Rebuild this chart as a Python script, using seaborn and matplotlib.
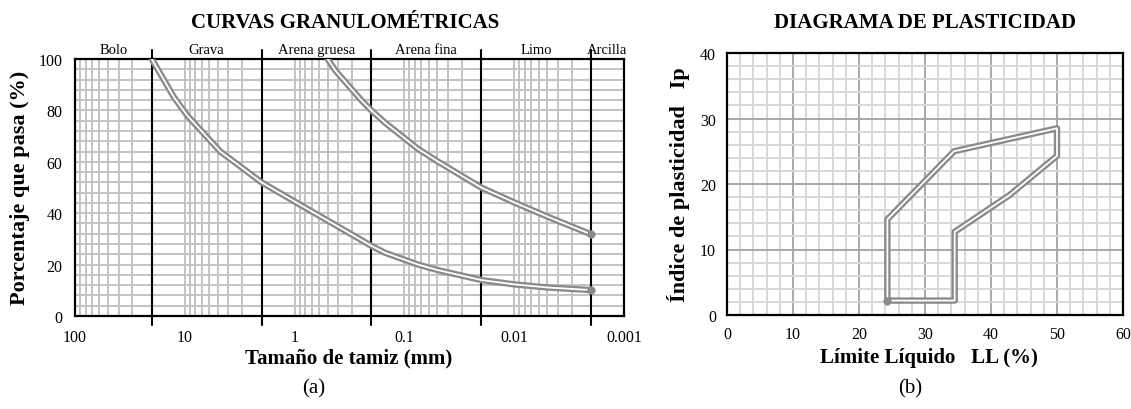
import numpy as np
import pandas as pd
import matplotlib
matplotlib.use("Agg")
import matplotlib.pyplot as plt
import seaborn as sns
from matplotlib import patheffects as pe
from matplotlib.ticker import FixedLocator, FixedFormatter, MultipleLocator, LogLocator, NullFormatter

# ---------------- data ----------------
# Granulometric curve A (coarser soil)
curve_a_mm = [20, 12.5, 9.5, 4.75, 2.0, 0.85, 0.425, 0.25, 0.2, 0.15, 0.075, 0.05, 0.02, 0.01, 0.005, 0.002]
curve_a_pct = [100, 85.0, 78.0, 64.0, 52.0, 42.8, 35.4, 29.7, 27.3, 24.6, 20.0, 17.9, 14.0, 12.3, 11.1, 10.1]
# Granulometric curve B (finer soil)
curve_b_mm = [0.5, 0.425, 0.25, 0.2, 0.15, 0.075, 0.05, 0.02, 0.01, 0.005, 0.002]
curve_b_pct = [100, 95.5, 84.2, 80.0, 75.2, 65.0, 60.2, 50.0, 44.2, 38.7, 31.8]

zone_bounds = [100, 20, 2, 0.2, 0.02, 0.002, 0.001]
zone_names = ["Bolo", "Grava", "Arena gruesa", "Arena fina", "Limo", "Arcilla"]

size_ticks = [100, 10, 1, 0.1, 0.01, 0.001]
size_tick_labels = ["100", "10", "1", "0.1", "0.01", "0.001"]
pct_ticks = [0, 20, 40, 60, 80, 100]

# Plasticity envelope
ll_values = [24.3, 24.3, 34.4, 50.0, 50.0, 42.8, 34.5, 34.5, 24.3]
ip_values = [2.2, 14.6, 25.0, 28.5, 24.3, 18.3, 12.7, 2.2, 2.2]
ll_ticks = [0, 10, 20, 30, 40, 50, 60]
ip_ticks = [0, 10, 20, 30, 40]

# ---------------- style ----------------
sns.set_theme(style="white")
plt.rcParams["font.family"] = ["Liberation Serif", "DejaVu Serif"]
plt.rcParams["axes.edgecolor"] = "black"
plt.rcParams["xtick.color"] = "black"
plt.rcParams["ytick.color"] = "black"
plt.rcParams["text.color"] = "black"

W, H = 1131, 410
fig = plt.figure(figsize=(W / 100, H / 100), dpi=100)

def px_axes(l, r, t, b):
    return [l / W, 1 - b / H, (r - l) / W, (b - t) / H]

ax1 = fig.add_axes(px_axes(75, 624, 60, 317))
ax2 = fig.add_axes(px_axes(727, 1123, 54, 316))

LINE_GRAY = "#8a8a8a"
double = [pe.Stroke(linewidth=4.6, foreground=LINE_GRAY), pe.Normal()]

# ---------------- (a) granulometric curves ----------------
ax1.set_xscale("log")
ax1.set_xlim(100, 0.001)
ax1.set_ylim(0, 100)
ax1.xaxis.set_major_locator(FixedLocator(size_ticks))
ax1.xaxis.set_major_formatter(FixedFormatter(size_tick_labels))
ax1.xaxis.set_minor_locator(LogLocator(base=10, subs=np.arange(2, 10)))
ax1.xaxis.set_minor_formatter(NullFormatter())
ax1.yaxis.set_major_locator(FixedLocator(pct_ticks))
ax1.yaxis.set_minor_locator(MultipleLocator(4))
ax1.grid(True, which="both", color="#c3c3c3", lw=1.4)
ax1.set_axisbelow(True)
ax1.tick_params(which="major", direction="out", length=6, width=1.5, labelsize=11.5, pad=3)
ax1.tick_params(which="minor", length=0)
for s in ax1.spines.values():
    s.set_color("black")
    s.set_linewidth(1.6)

for b in zone_bounds[1:-1]:
    ax1.axvline(b, color="black", lw=1.5, ymin=-0.035, ymax=1.035, clip_on=False, zorder=3)

for lo, hi, name in zip(zone_bounds[:-1], zone_bounds[1:], zone_names):
    ax1.text(np.sqrt(lo * hi), 101.2, name, ha="center", va="bottom", fontsize=10.5)

for xs, ys in [(curve_a_mm, curve_a_pct), (curve_b_mm, curve_b_pct)]:
    df = pd.DataFrame({"d": xs, "p": ys})
    sns.lineplot(data=df, x="d", y="p", ax=ax1, color="white", lw=1.3, sort=False,
                 estimator=None, path_effects=double, zorder=5,
                 solid_joinstyle="round", solid_capstyle="round")
    sns.scatterplot(x=[xs[-1]], y=[ys[-1]], ax=ax1, color=LINE_GRAY, s=30,
                    edgecolor=LINE_GRAY, zorder=6)

ax1.set_xlabel("")
ax1.set_ylabel("")

# ---------------- (b) plasticity diagram ----------------
ax2.set_xlim(0, 60)
ax2.set_ylim(0, 40)
ax2.xaxis.set_major_locator(FixedLocator(ll_ticks))
ax2.yaxis.set_major_locator(FixedLocator(ip_ticks))
ax2.xaxis.set_minor_locator(MultipleLocator(2))
ax2.yaxis.set_minor_locator(MultipleLocator(2))
ax2.grid(True, which="minor", color="#d8d8d8", lw=1.4)
ax2.grid(True, which="major", color="#a8a8a8", lw=1.4)
ax2.set_axisbelow(True)
ax2.tick_params(which="major", direction="out", length=5, width=1.5, labelsize=11.5, pad=3)
ax2.tick_params(which="minor", length=0)
for s in ax2.spines.values():
    s.set_color("black")
    s.set_linewidth(1.6)

dfp = pd.DataFrame({"ll": ll_values, "ip": ip_values})
sns.lineplot(data=dfp, x="ll", y="ip", ax=ax2, color="white", lw=1.3, sort=False,
             estimator=None, path_effects=double, zorder=5)
sns.scatterplot(x=[ll_values[0]], y=[ip_values[0]], ax=ax2, color=LINE_GRAY, s=30,
                edgecolor=LINE_GRAY, zorder=6)
ax2.set_xlabel("")
ax2.set_ylabel("")

# ---------------- texts ----------------
def fx(px):
    return px / W

def fy(py):
    return 1 - py / H

fig.text(fx(345), fy(23), "CURVAS GRANULOMÉTRICAS", ha="center", va="center",
         fontsize=15, fontweight="bold")
fig.text(fx(925), fy(23), "DIAGRAMA DE PLASTICIDAD", ha="center", va="center",
         fontsize=15, fontweight="bold")
fig.text(fx(20), fy(188), "Porcentaje que pasa (%)", rotation=90, ha="center", va="center",
         fontsize=16, fontweight="bold")
fig.text(fx(679), fy(185), "Índice de plasticidad   Ip", rotation=90, ha="center", va="center",
         fontsize=16, fontweight="bold")
fig.text(fx(349), fy(358), "Tamaño de tamiz (mm)", ha="center", va="center",
         fontsize=15, fontweight="bold")
fig.text(fx(929), fy(358), "Límite Líquido   LL (%)", ha="center", va="center",
         fontsize=15, fontweight="bold")
fig.text(fx(314), fy(389), "(a)", ha="center", va="center", fontsize=15)
fig.text(fx(910), fy(389), "(b)", ha="center", va="center", fontsize=15)

fig.savefig("out.png", dpi=100)
